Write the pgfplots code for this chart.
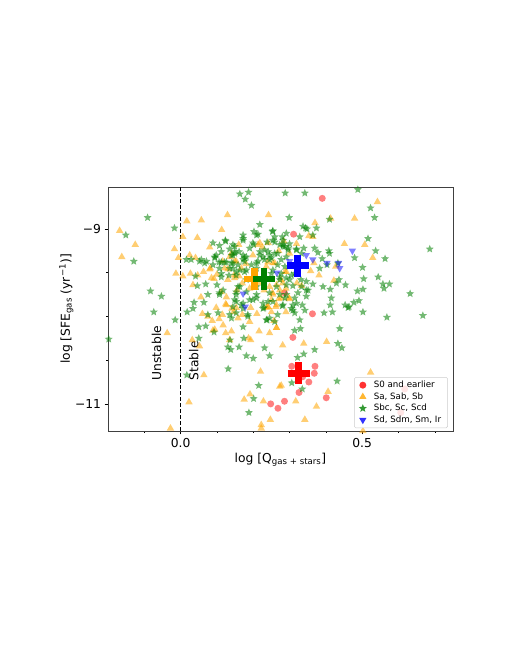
\documentclass[border=0pt]{standalone}
\usepackage{fontspec}
\setmainfont{DejaVu Sans}
\usepackage{pgfplots}
\pgfplotsset{compat=1.18}
\usetikzlibrary{plotmarks}
\definecolor{mred}{HTML}{FF0000}
\definecolor{morange}{HTML}{FFA500}
\definecolor{mgreen}{HTML}{008000}
\definecolor{mblue}{HTML}{0000FF}
\pgfdeclareplotmark{fstar}{%
 \pgfpathmoveto{\pgfpointpolar{90}{\pgfplotmarksize}}%
 \pgfpathlineto{\pgfpointpolar{126}{0.45\pgfplotmarksize}}%
 \pgfpathlineto{\pgfpointpolar{162}{\pgfplotmarksize}}%
 \pgfpathlineto{\pgfpointpolar{198}{0.45\pgfplotmarksize}}%
 \pgfpathlineto{\pgfpointpolar{234}{\pgfplotmarksize}}%
 \pgfpathlineto{\pgfpointpolar{270}{0.45\pgfplotmarksize}}%
 \pgfpathlineto{\pgfpointpolar{306}{\pgfplotmarksize}}%
 \pgfpathlineto{\pgfpointpolar{342}{0.45\pgfplotmarksize}}%
 \pgfpathlineto{\pgfpointpolar{18}{\pgfplotmarksize}}%
 \pgfpathlineto{\pgfpointpolar{54}{0.45\pgfplotmarksize}}%
 \pgfpathclose\pgfusepathqfillstroke}
\begin{document}
\begin{tikzpicture}[x=1pt,y=1pt]
\path[use as bounding box] (0,0) rectangle (507,656);
\begin{axis}[
  at={(108pt,225pt)},anchor=south west,
  scale only axis,width=345pt,height=244pt,
  xmin=-0.2,xmax=0.75,ymin=-11.31,ymax=-8.52,
  xtick={0,0.5},xticklabels={0.0,0.5},
  ytick={-11,-9},yticklabels={−11,−9},
  minor xtick={-0.1,0.1,0.2,0.3,0.4,0.6,0.7},
  minor ytick={-10.5,-10,-9.5},
  tick align=outside,
  major tick length=3.5pt,minor tick length=2pt,
  tick style={black,line width=0.5pt},
  axis line style={black!75,line width=0.6pt},
  tick label style={font=\fontsize{12.3}{14}\selectfont},
  tick pos=left,
  xlabel={log [Q\textsubscript{gas + stars}]},
  ylabel={log [SFE\textsubscript{gas} (yr\textsuperscript{−1})]},
  label style={font=\fontsize{12.3}{14}\selectfont},
  xlabel style={at={(axis description cs:0.5,0)},anchor=north,yshift=-19pt},
  ylabel style={at={(axis description cs:0,0.5)},anchor=south,yshift=31pt},
  clip=true,
  legend style={at={(rel axis cs:0.985,0.012)},anchor=south east,font=\fontsize{8.7}{10}\selectfont,
    draw=black!20,rounded corners=1.5pt,fill=white,fill opacity=0.8,text opacity=1,
    inner xsep=4.5pt,inner ysep=1.8pt,row sep=-0.5pt,cells={anchor=west},
    /tikz/column 1/.style={column sep=5pt}},
  legend cell align=left,
]
\addlegendimage{only marks,mark=*,mark size=3.5pt,mark options={fill=mred,draw opacity=0}}
\addlegendentry{S0 and earlier}
\addlegendimage{only marks,mark=triangle*,mark size=4.2pt,mark options={fill=morange,draw opacity=0}}
\addlegendentry{Sa, Sab, Sb}
\addlegendimage{only marks,mark=fstar,mark size=4.2pt,mark options={fill=mgreen,draw opacity=0}}
\addlegendentry{Sbc, Sc, Scd}
\addlegendimage{only marks,mark=triangle*,mark size=4.2pt,mark options={fill=mblue,draw opacity=0,rotate=180}}
\addlegendentry{Sd, Sdm, Sm, Ir}
% S0 and earlier
\addplot+[forget plot,only marks,mark=*,mark size=3.5pt,mark options={fill=mred,fill opacity=0.5,draw opacity=0}] table[row sep=\\] {
x y\\
0.390 -8.65\\ 0.311 -9.06\\ 0.286 -9.73\\ 0.363 -9.97\\ 0.309 -10.24\\ 0.306 -10.57\\ 0.370 -10.57\\ 0.368 -10.65\\
0.353 -10.75\\ 0.326 -10.87\\ 0.336 -10.69\\ 0.401 -10.93\\ 0.286 -10.97\\ 0.617 -10.83\\ 0.606 -11.10\\ 0.248 -11.00\\ 0.268 -11.05\\ 0.268 -11.32\\
};
% Sa, Sab, Sb
\addplot+[forget plot,only marks,mark=triangle*,mark size=4.3pt,mark options={fill=morange,fill opacity=0.55,draw opacity=0}] table[row sep=\\] {
x y\\
-0.168 -9.02\\ -0.125 -9.18\\ -0.162 -9.32\\ 0.017 -8.91\\ 0.057 -8.90\\ 0.129 -8.84\\ 0.242 -8.84\\ 0.113 -9.01\\
0.006 -9.09\\ 0.046 -9.10\\ -0.017 -9.23\\ 0.080 -9.21\\ 0.025 -9.30\\ -0.006 -9.33\\ 0.041 -9.33\\ -0.013 -9.51\\
0.006 -9.54\\ 0.027 -9.51\\ 0.034 -9.64\\ 0.056 -9.78\\ 0.080 -9.46\\ 0.063 -9.49\\ 0.085 -9.56\\ 0.092 -9.57\\
0.126 -9.78\\ 0.124 -9.86\\ 0.098 -9.90\\ 0.199 -9.30\\ 0.213 -9.18\\ 0.225 -9.21\\ 0.241 -9.16\\ 0.254 -9.39\\
0.121 -9.45\\ 0.130 -9.46\\ 0.147 -9.53\\ 0.161 -9.54\\ 0.149 -9.37\\ 0.140 -9.28\\ 0.112 -9.72\\ 0.153 -9.90\\
0.253 -9.73\\ 0.264 -9.64\\ 0.240 -9.89\\ 0.264 -9.87\\ -0.037 -10.19\\ 0.032 -10.27\\ 0.052 -10.34\\ 0.064 -10.67\\
0.023 -10.98\\ -0.028 -11.28\\ 0.075 -10.00\\ 0.087 -10.05\\ 0.106 -10.03\\ 0.117 -10.10\\ 0.089 -10.16\\ 0.124 -10.19\\
0.140 -10.17\\ 0.187 -10.25\\ 0.158 -10.02\\ 0.190 -10.06\\ 0.216 -10.17\\ 0.245 -10.19\\ 0.264 -10.13\\ 0.236 -9.90\\
0.220 -10.63\\ 0.191 -10.89\\ 0.175 -10.95\\ 0.228 -10.97\\ 0.247 -11.18\\ 0.222 -11.24\\ 0.222 -11.28\\ 0.273 -10.80\\
0.542 -8.69\\ 0.479 -8.88\\ 0.413 -8.88\\ 0.370 -8.93\\ 0.353 -9.08\\ 0.364 -9.09\\ 0.451 -9.17\\ 0.507 -9.18\\
0.529 -9.33\\ 0.319 -9.17\\ 0.284 -9.14\\ 0.367 -9.39\\ 0.427 -9.43\\ 0.358 -9.48\\ 0.381 -9.53\\ 0.422 -9.59\\
0.333 -9.65\\ 0.291 -9.49\\ 0.277 -9.58\\ 0.273 -9.70\\ 0.298 -9.79\\ 0.281 -9.62\\ 0.523 -10.64\\ 0.402 -10.29\\
0.339 -10.31\\ 0.281 -10.33\\ 0.406 -10.86\\ 0.277 -10.79\\ 0.317 -10.97\\ 0.374 -11.03\\ 0.342 -11.18\\ 0.502 -11.31\\
0.204 -9.67\\ 0.193 -9.90\\ 0.241 -9.89\\ 0.262 -9.89\\ 0.254 -9.75\\ 0.250 -9.81\\ 0.300 -9.80\\ 0.277 -9.79\\
0.257 -10.05\\ 0.264 -10.13\\ 0.193 -10.27\\ 0.126 -9.87\\ 0.141 -9.91\\ 0.060 -9.97\\ 0.115 -9.98\\ 0.094 -10.15\\
0.135 -10.27\\ 0.146 -9.95\\ 0.135 -9.32\\ 0.153 -9.37\\ 0.082 -9.45\\ 0.116 -9.37\\ 0.167 -9.45\\ 0.149 -9.56\\
0.047 -9.53\\ 0.218 -9.16\\ 0.259 -9.39\\ 0.236 -9.43\\ 0.287 -9.49\\
0.215 -9.62\\ 0.230 -9.70\\ 0.190 -9.68\\ 0.245 -9.66\\ 0.270 -9.80\\ 0.290 -9.68\\ 0.250 -9.95\\ 0.210 -9.97\\
0.170 -9.98\\ 0.155 -9.70\\ 0.170 -9.62\\ 0.130 -9.58\\ 0.100 -9.52\\ 0.270 -9.25\\ 0.300 -9.28\\ 0.240 -9.38\\
0.320 -9.62\\ 0.180 -9.40\\ 0.160 -9.18\\ 0.290 -9.95\\
};
% Sbc, Sc, Scd
\addplot+[forget plot,only marks,mark=fstar,mark size=4.2pt,mark options={fill=mgreen,fill opacity=0.55,draw opacity=0}] table[row sep=\\] {
x y\\
0.163 -8.60\\ 0.187 -8.58\\ 0.178 -8.66\\ 0.195 -8.73\\ -0.091 -8.87\\ -0.151 -9.07\\ -0.017 -8.99\\ -0.129 -9.37\\
-0.083 -9.71\\ -0.053 -9.77\\ 0.218 -8.95\\ 0.172 -9.07\\ 0.202 -9.03\\ 0.253 -9.03\\ 0.124 -9.14\\ 0.089 -9.16\\
0.107 -9.19\\ 0.149 -9.20\\ 0.199 -9.16\\ 0.172 -9.13\\ 0.209 -9.07\\ 0.259 -9.09\\ 0.098 -9.30\\ 0.094 -9.33\\
0.140 -9.30\\ 0.176 -9.33\\ 0.016 -9.35\\ 0.029 -9.35\\ 0.057 -9.35\\ 0.071 -9.37\\ 0.112 -9.38\\ 0.126 -9.38\\
0.089 -9.41\\ 0.041 -9.54\\ 0.069 -9.63\\ 0.046 -9.65\\ 0.075 -9.75\\ 0.037 -9.84\\ 0.064 -9.84\\ 0.100 -9.64\\
0.117 -9.70\\ 0.158 -9.66\\ 0.153 -9.75\\ 0.149 -9.81\\ 0.144 -9.89\\ 0.172 -9.85\\ 0.209 -9.79\\ 0.227 -9.85\\
0.254 -9.83\\ 0.264 -9.66\\ 0.181 -9.58\\ 0.163 -9.47\\ 0.209 -9.39\\ 0.227 -9.32\\ 0.250 -9.33\\ 0.241 -9.26\\
0.181 -9.47\\ 0.190 -9.22\\ 0.218 -9.26\\ 0.172 -9.30\\ 0.153 -9.49\\ 0.140 -9.39\\ 0.288 -8.59\\ 0.342 -8.59\\
0.488 -8.55\\ 0.523 -8.76\\ 0.534 -8.87\\ 0.410 -8.89\\ 0.299 -8.87\\ 0.337 -8.97\\ 0.348 -9.00\\ 0.374 -8.99\\
0.364 -9.07\\ 0.328 -9.09\\ 0.300 -9.17\\ 0.280 -9.09\\ 0.273 -9.18\\ 0.287 -9.20\\ 0.296 -9.24\\ 0.319 -9.23\\
0.339 -9.22\\ 0.369 -9.22\\ 0.378 -9.27\\ 0.408 -9.25\\ 0.410 -9.28\\ 0.390 -9.34\\ 0.403 -9.41\\ 0.433 -9.39\\
0.383 -9.45\\ 0.516 -9.11\\ 0.537 -9.25\\ 0.479 -9.33\\ 0.563 -9.34\\ 0.501 -9.44\\ 0.686 -9.23\\ 0.544 -9.55\\
0.504 -9.57\\ 0.557 -9.63\\ 0.575 -9.63\\ 0.560 -9.68\\ 0.632 -9.74\\ 0.487 -9.71\\ 0.502 -9.69\\ 0.454 -9.64\\
0.429 -9.62\\ 0.436 -9.58\\ 0.415 -9.79\\ 0.412 -9.87\\ 0.453 -9.87\\ 0.464 -9.89\\ 0.477 -9.84\\ 0.491 -9.82\\
0.364 -9.63\\ 0.392 -9.66\\ 0.412 -9.69\\ 0.346 -9.77\\ 0.331 -9.58\\ 0.309 -9.65\\ 0.346 -9.70\\ 0.323 -9.73\\
0.291 -9.56\\ 0.277 -9.51\\ 0.309 -9.87\\ 0.335 -9.87\\ 0.282 -9.87\\ 0.314 -9.51\\ 0.502 -9.95\\ 0.568 -10.01\\
0.667 -9.99\\ 0.395 -9.96\\ 0.418 -9.95\\ 0.328 -10.04\\ 0.314 -10.16\\ 0.330 -10.14\\ 0.438 -10.14\\ 0.433 -10.31\\
0.444 -10.36\\ 0.369 -10.38\\ 0.339 -10.43\\ 0.322 -10.47\\ 0.306 -10.76\\ 0.335 -10.83\\ 0.431 -10.74\\ 0.309 -9.93\\
0.342 -9.93\\ -0.074 -9.95\\ -0.198 -10.26\\ -0.015 -10.04\\ 0.018 -9.95\\ 0.034 -9.91\\ 0.050 -10.12\\ 0.069 -10.11\\
0.092 -10.18\\ 0.050 -10.25\\ 0.130 -10.35\\ 0.138 -10.38\\ 0.161 -10.35\\ 0.136 -10.27\\ 0.174 -10.25\\ 0.172 -10.12\\
0.181 -10.45\\ 0.200 -10.48\\ 0.231 -10.36\\ 0.245 -10.45\\ 0.131 -10.60\\ 0.017 -10.67\\ 0.215 -10.79\\ 0.201 -10.94\\
0.188 -11.10\\ 0.185 -10.00\\ 0.140 -10.02\\ 0.103 -9.96\\ 0.075 -9.98\\ 0.227 -9.91\\ 0.245 -10.02\\ 0.236 -10.04\\
0.259 -10.06\\ 0.172 -9.91\\ 0.153 -9.96\\ 0.135 -9.98\\ 0.107 -9.73\\ 0.167 -9.87\\ 0.153 -9.83\\ 0.185 -9.98\\
0.190 -9.81\\ 0.181 -9.72\\ 0.153 -9.72\\ 0.163 -9.66\\ 0.229 -9.90\\ 0.199 -9.81\\ 0.280 -9.88\\ 0.267 -9.98\\
0.238 -10.04\\ 0.305 -9.91\\ 0.314 -9.96\\ 0.291 -9.75\\ 0.287 -9.79\\ 0.314 -9.79\\ 0.319 -9.85\\ 0.333 -9.66\\
0.351 -9.70\\ 0.241 -9.83\\ 0.209 -9.66\\ 0.123 -9.13\\ 0.144 -9.18\\ 0.161 -9.26\\ 0.135 -9.23\\ 0.149 -9.28\\
0.052 -9.37\\ 0.066 -9.39\\ 0.106 -9.38\\ 0.181 -9.32\\ 0.176 -9.37\\ 0.112 -9.51\\ 0.107 -9.45\\ 0.153 -9.53\\
0.112 -9.55\\ 0.133 -9.53\\ 0.176 -9.49\\ 0.144 -9.45\\ 0.254 -9.02\\ 0.213 -9.06\\ 0.291 -9.05\\ 0.238 -9.15\\
0.201 -9.18\\ 0.282 -9.13\\ 0.259 -9.15\\ 0.333 -9.28\\ 0.259 -9.28\\ 0.218 -9.30\\ 0.245 -9.30\\ 0.291 -9.32\\
0.277 -9.35\\ 0.213 -9.37\\ 0.195 -9.41\\ 0.231 -9.35\\ 0.267 -9.41\\ 0.209 -9.45\\ 0.254 -9.47\\ 0.287 -9.43\\
0.273 -9.55\\ 0.300 -9.58\\ 0.346 -9.60\\ 0.305 -9.53\\
0.296 -9.22\\ 0.282 -9.20\\ 0.319 -9.24\\ 0.172 -9.11\\ 0.094 -9.32\\ 0.121 -9.38\\ 0.344 -8.99\\ 0.461 -9.90\\
0.112 -9.26\\ 0.149 -9.26\\ 0.144 -9.30\\ 0.172 -9.35\\ 0.144 -9.39\\ 0.135 -9.45\\ 0.158 -9.41\\ 0.245 -9.35\\
0.267 -9.28\\ 0.282 -9.18\\ 0.254 -9.13\\ 0.231 -9.24\\ 0.250 -9.51\\ 0.273 -9.58\\ 0.107 -9.75\\ 0.209 -9.75\\
0.245 -9.73\\ 0.273 -9.75\\ 0.291 -9.64\\
};
% Sd, Sdm, Sm, Ir
\addplot+[forget plot,only marks,mark=triangle*,mark size=4.2pt,mark options={fill=mblue,fill opacity=0.5,draw opacity=0,rotate=180}] table[row sep=\\] {
x y\\
0.346 -9.30\\ 0.364 -9.35\\ 0.403 -9.39\\ 0.435 -9.39\\ 0.438 -9.45\\ 0.473 -9.25\\ 0.300 -9.37\\ 0.265 -9.50\\ 0.172 -9.74\\ 0.178 -9.89\\
};
% Means
\addplot+[forget plot,only marks,mark=+,mark size=11pt,mark options={draw=mred,line width=6.5pt}] coordinates {(0.325,-10.65)};
\addplot+[forget plot,only marks,mark=+,mark size=11pt,mark options={draw=morange,line width=6.5pt}] coordinates {(0.204,-9.57)};
\addplot+[forget plot,only marks,mark=+,mark size=11pt,mark options={draw=mgreen,line width=6.5pt}] coordinates {(0.229,-9.57)};
\addplot+[forget plot,only marks,mark=+,mark size=11pt,mark options={draw=mblue,line width=6.5pt}] coordinates {(0.322,-9.42)};
% Divider
\addplot[forget plot,no marks,black,line width=0.9pt,dash pattern=on 4pt off 2pt] coordinates {(0,-11.31) (0,-8.52)};
\node[rotate=90,anchor=west,font=\fontsize{12.3}{14}\selectfont] at (axis cs:-0.066,-10.77) {Unstable};
\node[rotate=90,anchor=west,font=\fontsize{12.3}{14}\selectfont] at (axis cs:0.036,-10.77) {Stable};
\end{axis}
\end{tikzpicture}
\end{document}
